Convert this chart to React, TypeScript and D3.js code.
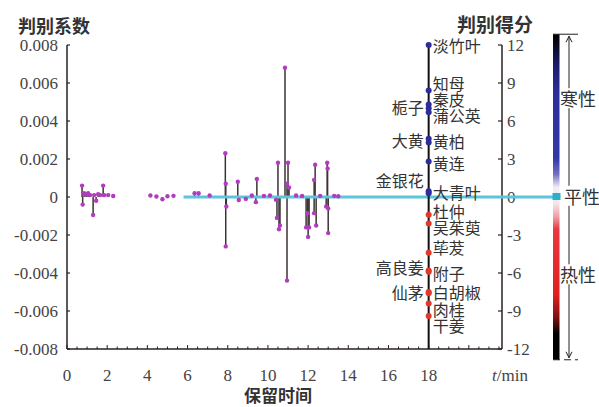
import * as d3 from 'd3'

// retention time (min) and discriminant coefficient of each peak
const peakTimes = [
  0.75, 0.78, 0.85, 0.95, 1.05, 1.15, 1.3, 1.35, 1.45, 1.55, 1.65, 1.8, 1.85, 2.05, 2.3,
  4.15, 4.45, 4.75, 5.0, 5.3, 6.35, 6.55, 7.1,
  7.88, 7.9, 7.93, 7.9, 8.5, 8.55, 8.9, 9.2, 9.45, 9.4, 9.8, 10.1,
  10.45, 10.5, 10.55, 10.6, 10.4, 10.85, 10.95, 11.0, 10.95, 11.05, 11.4, 11.7,
  11.9, 11.97, 12.0, 12.05, 12.35, 12.3, 12.3, 12.4, 12.6,
  12.95, 12.97, 12.9, 13.0, 13.0, 13.3, 13.5,
]
const peakCoefs = [
  0.0006, -0.0004, 0.0002, 0.00015, 0.0002, 0.0001, -0.00095, 0.0001, -0.0002, 0.00015, 0.0001, 0.0006, 0.0001, 0.0001, 0.00005,
  0.00008, 0.00003, -0.00012, 0.00004, 0.00006, 0.0002, 0.0002, 0.00008,
  0.0023, 0.0007, -0.0005, -0.0026, 0.0008, -0.00016, -0.0001, 0.00008, 0.00095, -0.00027, 0.00006, 0.00008,
  -0.0011, 0.0018, -0.0017, -0.0015, -0.00015, 0.0068, -0.0044, 0.0018, 0.0007, 0.0005, 0.00008, 0.00005,
  -0.0016, -0.00085, -0.0021, -0.0016, 0.0017, 0.0009, -0.00085, -0.0015, 0.00006,
  0.0018, 0.0015, -0.0005, -0.0006, -0.0019, 0.00006, 0.00004,
]

// herbs and their discriminant scores (plotted at t = 18)
const herbNames = ['淡竹叶', '知母', '秦皮', '栀子', '蒲公英', '大黄', '黄柏', '黄连', '金银花', '大青叶',
  '杜仲', '吴茱萸', '荜茇', '高良姜', '附子', '仙茅', '白胡椒', '肉桂', '干姜']
const herbScores = [12, 8.4, 7.3, 7.0, 6.7, 4.6, 4.3, 2.8, 0.45, 0.3,
  -1.4, -2.1, -4.4, -5.8, -5.9, -7.5, -7.6, -8.4, -9.4]
const herbSide = ['R', 'R', 'R', 'L', 'R', 'L', 'R', 'R', 'L', 'R',
  'R', 'R', 'R', 'L', 'R', 'L', 'R', 'R', 'R']
// label nudges in px so the names sit like in the original
const labelNudge = [0, -8, -6, -1, 3, 1, -2, 1, -11, -1, -4, 3, -6, -3, 1, 0, -1, 6, 9]

const xTicks = [0, 2, 4, 6, 8, 10, 12, 14, 16, 18]
const coefTicks = [-0.008, -0.006, -0.004, -0.002, 0, 0.002, 0.004, 0.006, 0.008]
const scoreTicks = [-12, -9, -6, -3, 0, 3, 6, 9, 12]
const natureLabels = ['寒性', '平性', '热性']
const natureScores = [7.8, 0.1, -6.1]

const W = 599
const H = 407
const serif = '"Liberation Serif", "DejaVu Serif", serif'
const cjk = '"Noto Sans CJK SC", sans-serif'

export default function App() {
  const x = d3.scaleLinear().domain([0, 21.65]).range([67, 502])
  const y = d3.scaleLinear().domain([-0.008, 0.008]).range([349, 45])
  const s = d3.scaleLinear().domain([-12, 12]).range([349, 45])
  const y0 = y(0)
  const minor = d3.range(0, 21.6, 0.5)
  const barTop = s(12.85)
  const barBot = s(-12.85)
  const x18 = x(18)

  const stems = peakTimes.map((t, i) => ({ t, v: peakCoefs[i] }))

  return (
    <svg width={W} height={H} style={{ position: 'absolute', left: 0, top: 0, background: '#fff' }}>
      <defs>
        <linearGradient id="nature" x1="0" y1="0" x2="0" y2="1">
          <stop offset="0" stopColor="#000" />
          <stop offset="0.035" stopColor="#0a0a20" />
          <stop offset="0.1" stopColor="#1c1c70" />
          <stop offset="0.18" stopColor="#2a2e9a" />
          <stop offset="0.38" stopColor="#3038a8" />
          <stop offset="0.43" stopColor="#7070c0" />
          <stop offset="0.47" stopColor="#f2eef4" />
          <stop offset="0.52" stopColor="#f6e6ea" />
          <stop offset="0.56" stopColor="#f0a0a8" />
          <stop offset="0.6" stopColor="#e83840" />
          <stop offset="0.8" stopColor="#e02020" />
          <stop offset="0.87" stopColor="#801010" />
          <stop offset="0.92" stopColor="#000" />
          <stop offset="1" stopColor="#000" />
        </linearGradient>
      </defs>

      {/* titles */}
      <text x={18} y={25} dominantBaseline="central" fontFamily={cjk} fontWeight="bold" fontSize={18} fill="#333">判别系数</text>
      <text x={457} y={23} dominantBaseline="central" fontFamily={cjk} fontWeight="bold" fontSize={19} fill="#333">判别得分</text>
      <text x={278} y={394} textAnchor="middle" dominantBaseline="central" fontFamily={cjk} fontWeight="bold" fontSize={17} fill="#333">保留时间</text>

      {/* left axis */}
      <line x1={x(0)} x2={x(0)} y1={y(0.008)} y2={y(-0.008)} stroke="#2a2020" strokeWidth={1.5} />
      {coefTicks.map(v => (
        <g key={v}>
          <line x1={x(0)} x2={x(0) + 3} y1={y(v)} y2={y(v)} stroke="#2a2020" strokeWidth={1.2} />
          <text x={58} y={y(v)} textAnchor="end" dominantBaseline="central" fontFamily={serif} fontSize={17} fill="#444">
            {v === 0 ? '0' : v.toFixed(3)}
          </text>
        </g>
      ))}

      {/* bottom axis */}
      <line x1={x(0)} x2={502} y1={y(-0.008)} y2={y(-0.008)} stroke="#2a2020" strokeWidth={1.5} />
      {minor.map(t => (
        <line key={t} x1={x(t)} x2={x(t)} y1={y(-0.008)} y2={y(-0.008) - (t % 2 === 0 ? 4 : 2.5)} stroke="#2a2020" strokeWidth={1} />
      ))}
      {xTicks.map(t => (
        <text key={t} x={x(t)} y={375} textAnchor="middle" dominantBaseline="central" fontFamily={serif} fontSize={17} fill="#444">{t}</text>
      ))}
      <text x={510} y={375} textAnchor="middle" dominantBaseline="central" fontFamily={serif} fontSize={17} fill="#444">
        <tspan fontStyle="italic">t</tspan>/min
      </text>

      {/* right axis (scores) */}
      <line x1={502} x2={502} y1={s(12)} y2={s(-12)} stroke="#2a2020" strokeWidth={1.5} />
      {scoreTicks.map(v => (
        <g key={v}>
          <line x1={502} x2={498} y1={s(v)} y2={s(v)} stroke="#2a2020" strokeWidth={1.2} />
          <text x={507} y={s(v)} dominantBaseline="central" fontFamily={serif} fontSize={17} fill="#444">{v}</text>
        </g>
      ))}

      {/* stems */}
      {stems.map((d, i) => (
        <line key={i} x1={x(d.t)} x2={x(d.t)} y1={y0} y2={y(d.v)} stroke="#3d3333" strokeWidth={1.5} />
      ))}

      {/* zero line */}
      <line x1={x(5.8)} x2={560} y1={y0} y2={y0} stroke="#5cc4dc" strokeWidth={3} />

      {stems.map((d, i) => (
        <circle key={i} cx={x(d.t)} cy={y(d.v)} r={2.2} fill="#b13cc0" />
      ))}

      {/* score line at t = 18 */}
      <line x1={x18} x2={x18} y1={s(12)} y2={y(-0.008)} stroke="#111" strokeWidth={2} />
      {herbScores.map((v, i) => (
        <circle key={i} cx={x18} cy={s(v)} r={3} fill={v > 0 ? '#2c2c9a' : '#e0382a'} />
      ))}
      {herbNames.map((n, i) => (
        <text key={n} x={herbSide[i] === 'R' ? x18 + 4 : x18 - 5} y={s(herbScores[i]) + labelNudge[i]}
          textAnchor={herbSide[i] === 'R' ? 'start' : 'end'} dominantBaseline="central"
          fontFamily={cjk} fontSize={16} fill="#333">{n}</text>
      ))}

      {/* colour bar */}
      <rect x={553} y={barTop} width={6.5} height={barBot - barTop} fill="url(#nature)" />
      <rect x={552.5} y={y0 - 4} width={8} height={7} fill="#2ab0c8" />
      <line x1={553} x2={578} y1={barTop} y2={barTop} stroke="#222" strokeWidth={1} />
      <line x1={553} x2={578} y1={barBot} y2={barBot} stroke="#222" strokeWidth={1} strokeDasharray="7,4" />
      <line x1={569} x2={569} y1={barTop + 2} y2={barBot - 2} stroke="#222" strokeWidth={1} />
      <path d={`M566,${barTop + 8} L569,${barTop + 2} L572,${barTop + 8}`} fill="none" stroke="#222" strokeWidth={1} />
      <path d={`M566,${barBot - 8} L569,${barBot - 2} L572,${barBot - 8}`} fill="none" stroke="#222" strokeWidth={1} />
      {natureLabels.map((n, i) => (
        <g key={n}>
          <rect x={i === 1 ? 563 : 560} y={s(natureScores[i]) - 10} width={36} height={20} fill="#fff" />
          <text x={i === 1 ? 564 : 560} y={s(natureScores[i])} dominantBaseline="central" fontFamily={cjk} fontSize={18} fill="#333">{n}</text>
        </g>
      ))}
    </svg>
  )
}
